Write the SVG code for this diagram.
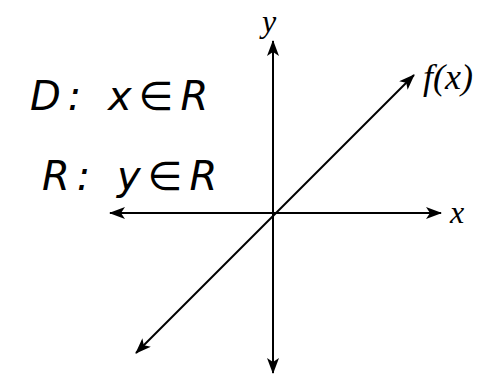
<svg xmlns="http://www.w3.org/2000/svg" width="483" height="381" viewBox="0 0 483 381">
<style>
.ax{stroke:#000;stroke-width:2;fill:none}
.lbl{font-family:"Liberation Serif",serif;font-style:italic;font-size:32px;fill:#000}
.hand{font-family:"DejaVu Sans",sans-serif;font-style:italic;font-size:40px;letter-spacing:7px;fill:#000}
</style>
<defs>
<marker id="ah" viewBox="0 0 16 12" refX="15" refY="6" markerWidth="16" markerHeight="12" markerUnits="userSpaceOnUse" orient="auto-start-reverse">
<path d="M0,0 L16,6 L0,12 L4,6 Z" fill="#000"/>
</marker>
</defs>
<g id="connectors">
<line class="ax" x1="110" y1="213" x2="441" y2="213" marker-start="url(#ah)" marker-end="url(#ah)"/>
<line class="ax" x1="273" y1="41" x2="273" y2="373" marker-start="url(#ah)" marker-end="url(#ah)"/>
<line class="ax" x1="136" y1="353" x2="414" y2="75" marker-start="url(#ah)" marker-end="url(#ah)"/>
</g>
<g id="label-y"><text class="lbl" x="262" y="32">y</text></g>
<g id="label-x"><text class="lbl" x="450" y="223">x</text></g>
<g id="label-fx"><text class="lbl" x="423" y="89" style="font-size:36px">f(x)</text></g>
<g id="domain"><text class="hand" x="30" y="110">D: x∈R</text></g>
<g id="range"><text class="hand" x="42" y="190">R: y∈R</text></g>
</svg>
